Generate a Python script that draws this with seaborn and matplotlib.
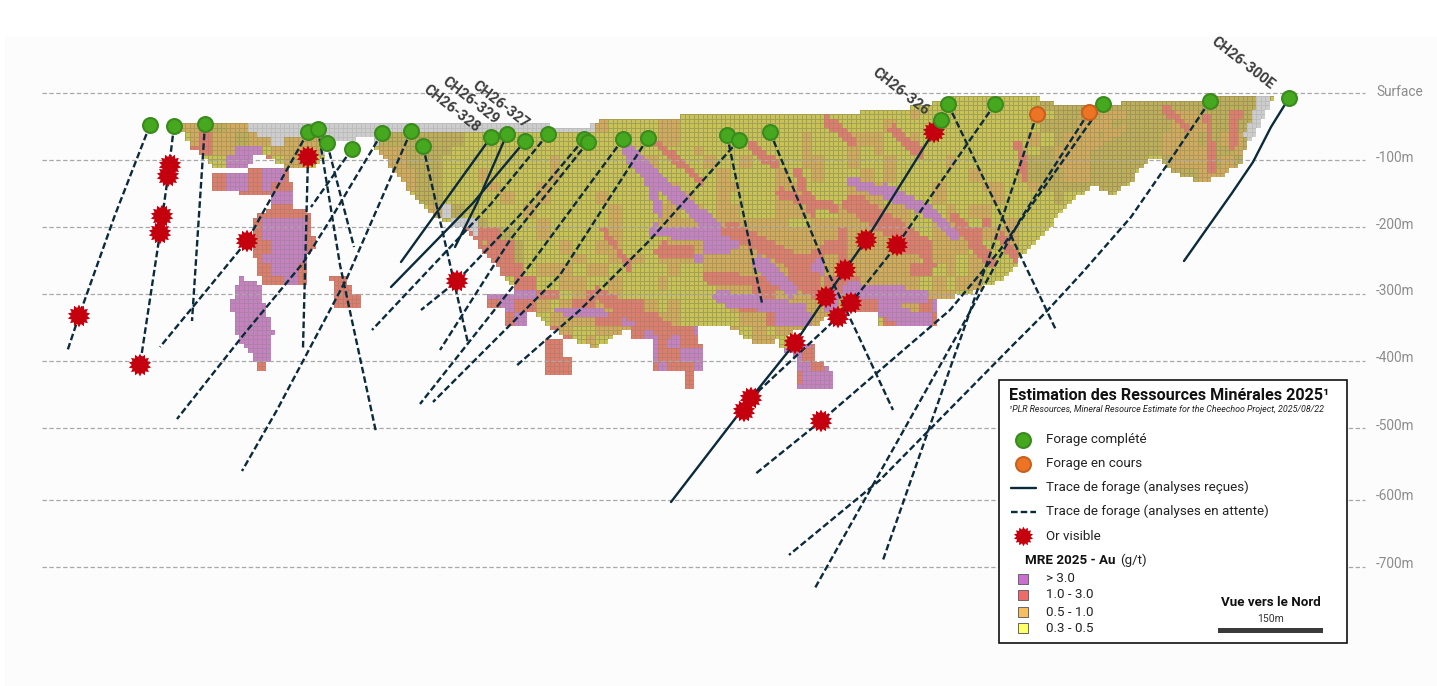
import matplotlib
matplotlib.use("Agg")
import matplotlib.pyplot as plt
from matplotlib.colors import ListedColormap
from matplotlib.patches import Rectangle
from matplotlib.path import Path
import numpy as np
import pandas as pd
import seaborn as sns

W, H = 1437, 686

# depth levels, read along the section (picture rows)
level_rows = [93, 160, 227, 294, 361, 428, 500, 567]
level_label_rows = [92, 158, 225, 291, 358, 426, 496, 564]
level_labels = ["Surface", "-100m", "-200m", "-300m", "-400m", "-500m", "-600m", "-700m"]

# block model, one string per 12 px band starting at row 96, column 140
# . empty, g no grade, y 0.3-0.5, b 0.3-0.5 mixed, o 0.5-1.0, r 1.0-3.0, p > 3.0
block_rows = [
    "............ ............ ............ ............ ............ ...yyyyyyyyy yyybbbbbbbbb bbbbbbbbbg..",
    "............ ............ ............ .......yyyyy yyyyyyyyyyyy yyyyoyyyyyyy yyyybbbboobb bboobbbbbg..",
    "...oooboogg. gggggggggggg gggggggggggg gyoyyyyooyyy yyyyyyyyyyyy yyoyyyyyyyyy yyybbbooobbb bbooobbbbg..",
    "....orooboog ooogggggbbbb bbbyyyyyyyyy yyyyyyyooyyy yyyyyyyoyyyo ooyyoyyyyyyy yyoybooobbbb booobboobg..",
    "....rroopp.o ooog....oobb bbyyyyyyyyyy yyyyyyyyyyoy yyyyyyyoyyyo yoyyyyyyyyyy yoybooobbbbb boooobbobg..",
    ".......pppr. oo......oobb byyyyyyyyyoy yyyyyyoyyyyo yyoyyyyooyyo yyoyyyyoyyyy yobbooobbbbb .booobobb...",
    "......rpprpp r........oob byyyoyyyyyoy yyyyyyyyyyyy oyyyyoyyoyyy oyoyyyyyyoyy yobbboobbbb. ..bbooo.....",
    "......rpprpr r.........ob byyyyoyyyoyy yyyyyyyyoyyy ooyyyooyyyyo ooyyyyoyyyoo yyobbbbbbb.. ............",
    "..........rp pp.........b byyyyyoyyoyy yyoyyyyyooyy oyyyyoooyyyo ooyyyyoyyyyo yyyyb..bb... ............",
    "..........rr rrr......... ogbyyyyyoyyy yyyoyyyooyoy ooyyyoooyyoo ooooyyyoyooy yyyy........ ............",
    ".........rpp ppr......... ..ggbyyyyoyy yyyoyyyooooo ooooooyyoooo ooooyyoooyry oyyy........ ............",
    ".........rpp ppr......... ...grrbyyoyy yyyoyyyyoooo ooooooooooro ooooyyoooroo oyy......... ............",
    ".........rrp pprr........ ....orrbyyyo yyooyyyoooop poooooooorro oooroyoooyyy oy.......... ............",
    ".........rpp ppr......... .....rrbyyyy oyyoyoyooopo oooooprrporo oooooyooyoyy y........... ............",
    "..........rp pr.......... ......rryooo yooyyyyyoyyo oooooorrpooo oooorryoyoy. ............ ............",
    "........pprr pr..rrr..... .......rryyo oyyoyyyoyyyy oooooorrorrr oooooyoyoo.. ............ ............",
    "........ppp. ....rrrr.... ....ppppprry orooyyyyyyyy yoorrooorprr ooorrooo.... ............ ............",
    ".......pppp. .....rrr.... .....rprroyo rroorroyoyyy yorrpoooopor rrooorpr.... ............ ............",
    ".......ppppp ............ .......pp.oo oorrpprooyyy yyoorpppoopy oyrpppr..r.. ............ ............",
    "........pppp ............ ..........ro yyooorprrrp. .oyoyooopr.. ............ ............ ............",
    "........pppp ............ .........rrr yoy...prprr. .oyooyppr... ............ ............ ............",
    ".........ppp ............ .........rrr ......prrpp. .....pprr... ............ ............ ............",
    "..........rr ............ .........rrr ......rprrp. ......pprp.. ............ ............ ............",
    "..........r. ............ ............ .........r.. ......rppp.. ............ ............ ............",
    "............ ............ ............ ............ ......pppp.. ............ ............ ............",
]
block_codes = "gyborp"
block_fill = ["#CDCDCD", "#C9C254", "#BDAE5A", "#D1AA5F", "#DC7E6E", "#C582BF"]
block_mesh = ["#BDBDBD", "#A3A05A", "#A29559", "#AD9959", "#BF7C6A", "#AC83A8"]

# outline of the main body, then the detached lenses
body_x = [180, 245, 270, 400, 480, 590, 600, 660, 757, 847, 913, 950, 1040, 1060, 1100, 1148, 1250, 1276, 1262, 1245,
          1240, 1218, 1196, 1170, 1160, 1148, 1131, 1113, 1095, 1071, 1036, 1001, 969, 938, 936, 881, 881, 835, 815, 800,
          780, 773, 753, 730, 677, 630, 613, 597, 570, 547, 530, 510, 495, 478, 465, 450, 430, 405, 385, 375, 375, 330,
          325, 310, 290, 268, 258, 245, 215, 207, 190, 180]
body_y = [122, 122, 124, 124, 122, 127, 118, 117, 113, 113, 107, 98, 98, 105, 105, 100, 97, 95, 120, 150,
          165, 178, 181, 170, 160, 160, 181, 197, 186, 200, 243, 280, 293, 300, 325, 325, 310, 312, 325, 330,
          335, 342, 343, 327, 325, 327, 337, 347, 340, 327, 310, 285, 265, 245, 228, 225, 213, 186, 160, 150, 138, 140,
          158, 168, 170, 158, 152, 168, 168, 158, 147, 128]
lens_x = [
    [213, 248, 250, 287, 295, 293, 270, 270, 243, 213],
    [275, 305, 310, 315, 305, 305, 262, 253, 255],
    [240, 258, 267, 273, 272, 265, 258, 253, 237, 230],
    [330, 348, 350, 362, 362, 336],
    [543, 565, 565, 572, 572, 547],
    [485, 512, 530, 527, 505, 505, 485],
    [632, 690, 690, 697, 697, 703, 703, 693, 693, 683, 683, 652, 652, 632],
    [777, 813, 813, 835, 835, 797, 795, 777],
    [880, 917, 917, 880],
    [925, 936, 936, 925],
]
lens_y = [
    [172, 172, 167, 167, 195, 207, 207, 193, 193, 190],
    [208, 208, 215, 245, 258, 287, 287, 250, 215],
    [277, 283, 313, 330, 353, 372, 372, 357, 337, 303],
    [275, 275, 292, 292, 308, 308],
    [340, 340, 355, 358, 373, 373],
    [292, 292, 310, 325, 325, 308, 308],
    [327, 327, 325, 325, 343, 345, 372, 372, 388, 388, 372, 372, 340, 340],
    [333, 345, 357, 372, 390, 390, 358, 345],
    [305, 305, 325, 325],
    [308, 308, 325, 325],
]

# grade streaks across the body: grade, width, x points, y points
streak_grade = ["r", "p", "p", "p", "r", "r", "r", "p", "r", "r", "p", "r", "r", "r", "r", "p", "r", "r", "p",
                "r", "r", "r", "o", "r", "r", "r", "p", "p", "r", "r", "r", "p", "r",
                "g", "g", "g"]
streak_width = [8, 14, 8, 12, 16, 16, 12, 14, 6, 14, 8, 14, 10, 8, 10, 8, 10, 10, 10,
                20, 8, 8, 8, 8, 10, 12, 16, 18, 8, 10, 8, 14, 10,
                14, 10, 12]
streak_x = [[657, 700], [627, 653, 697, 733], [647, 660], [653, 730], [663, 687], [730, 780, 813], [707, 813], [720, 800],
            [603, 630], [597, 630, 667], [560, 603], [623, 667], [780, 833], [797, 813], [827, 850], [883, 917], [893, 920],
            [753, 773], [850, 927, 955], [853, 923], [1018, 1025], [1166, 1187], [1075, 1124], [1208, 1211], [1236, 1232],
            [955, 990], [850, 920], [885, 917], [1001, 1015], [920, 930], [465, 500], [760, 790], [800, 835],
            [262, 375], [375, 590], [1265, 1250]]
streak_y = [[143, 180], [150, 177, 213, 243], [177, 213], [230, 237], [250, 252], [230, 253, 280], [277, 287], [297, 310],
            [230, 267], [293, 310, 330], [310, 313], [310, 330], [193, 207], [173, 213], [120, 140], [187, 203], [130, 153],
            [147, 163], [180, 210, 237], [203, 247], [143, 177], [110, 127], [157, 127], [117, 170], [113, 143],
            [217, 263], [290, 297], [307, 323], [237, 257], [243, 263], [230, 270], [262, 290], [262, 245],
            [131, 131], [129, 129], [100, 135]]

# collars
done_x = [150, 174, 205, 308, 318, 327, 352, 382, 411, 423, 491, 507, 525, 548, 584, 588, 623, 648,
          727, 739, 770, 941, 948, 995, 1103, 1210, 1289]
done_y = [125, 126, 124, 132, 129, 143, 149, 133, 131, 146, 137, 134, 141, 134, 139, 142, 139, 138,
          135, 140, 132, 120, 104, 104, 104, 101, 98]
active_x = [1037, 1089]
active_y = [114, 112]

# visible gold
gold_x = [79, 170, 168, 162, 160, 140, 308, 247, 457, 934, 866, 897, 845, 826, 851, 838, 795, 751, 744, 821]
gold_y = [316, 165, 176, 216, 233, 365, 157, 241, 281, 132, 240, 245, 270, 297, 303, 317, 343, 398, 411, 421]

# drill traces: (x points, y points)
received = [
    ([491, 401], [137, 262]),
    ([507, 477, 455], [134, 203, 247]),
    ([525, 473, 391], [141, 203, 287]),
    ([941, 866, 845, 826, 795, 751, 671], [120, 240, 270, 297, 343, 398, 502]),
    ([1289, 1271, 1253, 1232, 1208, 1184], [98, 127, 162, 193, 227, 261]),
]
pending = [
    ([150, 115, 79, 67], [125, 215, 316, 352]),
    ([174, 168, 160, 140], [126, 176, 233, 365]),
    ([205, 192], [124, 321]),
    ([308, 247, 160], [132, 241, 347]),
    ([308, 303], [157, 348]),
    ([318, 340, 376], [129, 265, 432]),
    ([327, 354], [143, 247]),
    ([352, 311], [149, 207]),
    ([382, 332, 303, 245, 177], [133, 217, 263, 333, 419]),
    ([411, 347, 277, 242], [131, 278, 410, 471]),
    ([423, 468], [146, 343]),
    ([548, 490, 372], [134, 205, 330]),
    ([584, 520, 457, 421], [139, 215, 281, 310]),
    ([588, 510, 440], [142, 240, 350]),
    ([623, 530, 420], [139, 265, 404]),
    ([648, 560, 480, 433], [138, 275, 355, 402]),
    ([739, 650, 580, 515], [140, 240, 310, 367]),
    ([727, 762], [135, 303]),
    ([770, 827, 858, 893], [132, 270, 335, 410]),
    ([948, 1056], [104, 330]),
    ([995, 897, 851, 838, 751], [104, 245, 303, 317, 398]),
    ([1037, 995, 960, 883], [114, 240, 340, 560]),
    ([1089, 1020, 960, 815], [112, 220, 330, 588]),
    ([1103, 1000, 950, 821, 754], [104, 250, 310, 421, 475]),
    ([1210, 1169, 1131, 1082, 1046, 1011, 880, 789], [101, 162, 217, 273, 312, 347, 480, 555]),
]

hole_names = ["CH26-328", "CH26-329", "CH26-327", "CH26-326", "CH26-300E"]
hole_name_x = [452, 471, 501, 901, 1243]
hole_name_y = [109, 101, 105, 92, 63]

grade_labels = ["> 3.0", "1.0 - 3.0", "0.5 - 1.0", "0.3 - 0.5"]
grade_colors = ["#C86FD0", "#F06A6A", "#F5BE60", "#FFFF66"]

TRACE = "#0B2A3C"
GREEN, GREEN_EDGE = "#46A81E", "#3A8A1E"
ORANGE, ORANGE_EDGE = "#EE7425", "#C9601F"
GOLD = "#C4000F"

sns.set_theme(style="white")
plt.rcParams["font.family"] = ["Roboto", "DejaVu Sans"]

fig = plt.figure(figsize=(W / 100, H / 100), dpi=100, facecolor="white")

ax_bg = fig.add_axes([0, 0, 1, 1], zorder=0)
ax_bg.set_xlim(0, W)
ax_bg.set_ylim(H, 0)
ax_bg.set_axis_off()
ax_bg.add_patch(Rectangle((5, 36), W - 5, H - 36, color="#FCFCFC", lw=0))

# block model: coarse bands sampled on the 4.5 px blocks, kept inside the outlines, streaks on top
ORIGIN_X, ORIGIN_Y, BAND, BLOCK = 140, 96, 12, 4.5
rows = [r.replace(" ", "")[:96].ljust(96, ".") for r in block_rows]
n_bands = len(rows)
px_w, px_h = 96 * BAND, n_bands * BAND
nb_x, nb_y = int(np.ceil(px_w / BLOCK)), int(np.ceil(px_h / BLOCK))
cx = ORIGIN_X + (np.arange(nb_x) + 0.5) * BLOCK
cy = ORIGIN_Y + (np.arange(nb_y) + 0.5) * BLOCK
gx, gy = np.meshgrid(cx, cy)
points = np.column_stack([gx.ravel(), gy.ravel()])

coarse = np.array([[block_codes.find(c) for c in r] for r in rows], dtype=float)
coarse[coarse < 0] = np.nan
blocks = coarse[((gy - ORIGIN_Y) // BAND).astype(int), ((gx - ORIGIN_X) // BAND).astype(int)]

inside_body = Path(np.column_stack([body_x, body_y])).contains_points(points).reshape(gx.shape)
inside_lens = np.zeros_like(inside_body)
for xs, ys in zip(lens_x, lens_y):
    inside_lens |= Path(np.column_stack([xs, ys])).contains_points(points).reshape(gx.shape)
blocks[inside_body & np.isnan(blocks)] = block_codes.index("y")
blocks[inside_lens & np.isnan(blocks)] = block_codes.index("r")
blocks[~(inside_body | inside_lens)] = np.nan

for grade, width, xs, ys in zip(streak_grade, streak_width, streak_x, streak_y):
    for x0, y0, x1, y1 in zip(xs[:-1], ys[:-1], xs[1:], ys[1:]):
        dx, dy = x1 - x0, y1 - y0
        t = np.clip(((gx - x0) * dx + (gy - y0) * dy) / (dx * dx + dy * dy), 0, 1)
        near = np.hypot(gx - x0 - t * dx, gy - y0 - t * dy) < width / 2
        blocks[near & ~np.isnan(blocks)] = block_codes.index(grade)

# one heatmap cell per pixel, so that the block outlines can be a different shade
iy = (np.arange(px_h) // BLOCK).astype(int)
ix = (np.arange(px_w) // BLOCK).astype(int)
cells = blocks[np.ix_(iy, ix)]
mesh_r = (np.arange(px_h) % BLOCK) < 1
mesh_c = (np.arange(px_w) % BLOCK) < 1
n_codes = len(block_codes)
cells[mesh_r, :] += n_codes
cells[np.ix_(~mesh_r, mesh_c)] += n_codes
ax_blocks = fig.add_axes([ORIGIN_X / W, 1 - (ORIGIN_Y + px_h) / H, px_w / W, px_h / H], zorder=1)
sns.heatmap(cells, ax=ax_blocks, mask=np.isnan(cells), cmap=ListedColormap(block_fill + block_mesh),
            vmin=-0.5, vmax=2 * n_codes - 0.5, cbar=False, xticklabels=False, yticklabels=False, rasterized=True)
ax_blocks.set_axis_off()

ax = fig.add_axes([0, 0, 1, 1], zorder=2)
ax.patch.set_alpha(0)

# traces
frames = []
for status, group in (("recues", received), ("attente", pending)):
    for i, (xs, ys) in enumerate(group):
        frames.append(pd.DataFrame({"x": xs, "y": ys, "hole": f"{status}-{i}", "status": status}))
traces = pd.concat(frames, ignore_index=True)
sns.lineplot(data=traces, x="x", y="y", units="hole", style="status", estimator=None, sort=False,
             dashes={"recues": "", "attente": (2.8, 1.3)}, color=TRACE, linewidth=1.7, legend=False, ax=ax)

star = Path.unit_regular_star(14, innerCircle=0.72)
sns.scatterplot(x=gold_x, y=gold_y, marker=star, s=270, color=GOLD, edgecolor="none", zorder=4, ax=ax)
sns.scatterplot(x=done_x, y=done_y, s=115, color=GREEN, edgecolor=GREEN_EDGE, linewidth=1.5, zorder=5, ax=ax)
sns.scatterplot(x=active_x, y=active_y, s=115, color=ORANGE, edgecolor=ORANGE_EDGE, linewidth=1.5, zorder=5, ax=ax)

ax.hlines(level_rows, 42, 1365, color="#A8A8A8", lw=0.9, linestyle=(0, (3.5, 2)), zorder=1)
for row, label in zip(level_label_rows, level_labels):
    ax.text(1376, row, label, color="#8C8C8C", fontsize=9.8, va="center")

for x, y, name in zip(hole_name_x, hole_name_y, hole_names):
    ax.text(x, y, name, color="#3E3E3E", fontsize=10.5, fontweight="bold", rotation=-38,
            ha="center", va="center", rotation_mode="anchor", zorder=6)

# legend box
ax.add_patch(Rectangle((999, 380), 348, 263, fc="white", ec="#111111", lw=1.2, zorder=7))
ax.text(1009, 395, "Estimation des Ressources Minérales 2025¹", fontsize=11.6, fontweight="bold",
        color="#111111", va="center", zorder=8)
ax.text(1009, 410, "¹PLR Resources, Mineral Resource Estimate for the Cheechoo Project, 2025/08/22",
        fontsize=6.4, style="italic", color="#222222", va="center", zorder=8)

legend_items = ["Forage complété", "Forage en cours", "Trace de forage (analyses reçues)",
                "Trace de forage (analyses en attente)", "Or visible"]
for row, label in zip([439, 463, 487, 511, 536], legend_items):
    ax.text(1046, row, label, fontsize=9.6, color="#222222", va="center", zorder=8)
ax.scatter([1023], [440], s=115, c=GREEN, edgecolors=GREEN_EDGE, linewidths=1.5, zorder=8)
ax.scatter([1023], [464], s=115, c=ORANGE, edgecolors=ORANGE_EDGE, linewidths=1.5, zorder=8)
ax.plot([1011, 1036], [488, 488], color=TRACE, lw=1.7, zorder=8)
ax.plot([1011, 1036], [512, 512], color=TRACE, lw=1.7, dashes=(2.8, 1.3), zorder=8)
ax.scatter([1023], [536], s=200, c=GOLD, marker=star, linewidths=0, zorder=8)

ax.text(1025, 560, "MRE 2025 - Au", fontsize=9.6, fontweight="bold", color="#111111", va="center", zorder=8)
ax.text(1120, 560, "(g/t)", fontsize=9.6, color="#222222", va="center", zorder=8)
for row, label, colour in zip([579, 595, 612, 628], grade_labels, grade_colors):
    ax.scatter([1022.5], [row], s=62, marker="s", c=colour, edgecolors="#666666", linewidths=0.7, zorder=8)
    ax.text(1046, row, label, fontsize=9.6, color="#222222", va="center", zorder=8)

ax.text(1271, 603, "Vue vers le Nord", fontsize=9.6, fontweight="bold", color="#111111", ha="center", va="center", zorder=8)
ax.text(1271, 619, "150m", fontsize=7.5, color="#333333", ha="center", va="center", zorder=8)
ax.add_patch(Rectangle((1218, 628), 105, 5, color="#3A3A3A", lw=0, zorder=8))

ax.set_xlim(0, W)
ax.set_ylim(H, 0)
ax.set(xlabel="", ylabel="")
ax.set_axis_off()

fig.savefig("out.png", dpi=100)
plt.close(fig)
